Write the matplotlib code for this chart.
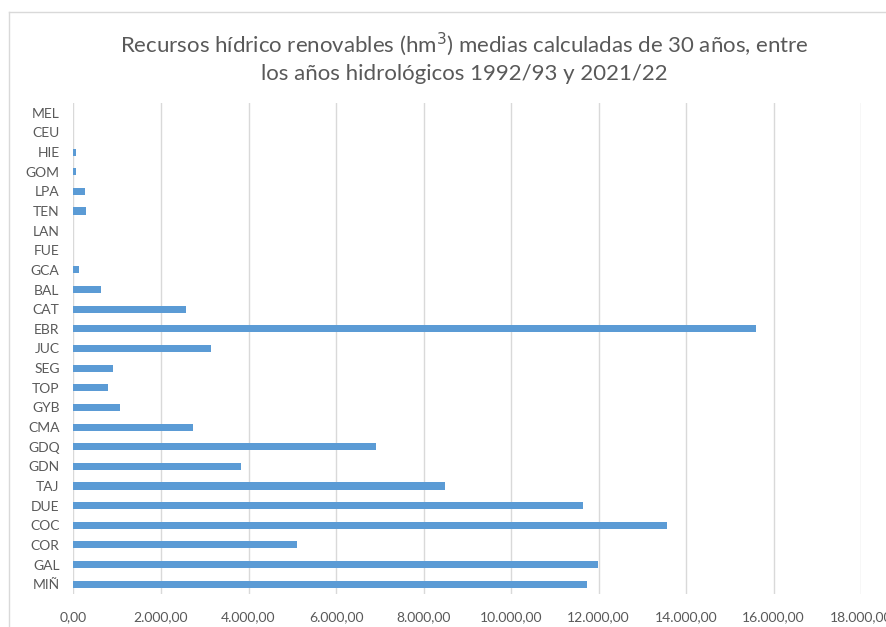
import matplotlib.pyplot as plt
from matplotlib.ticker import FuncFormatter, MultipleLocator
from matplotlib.lines import Line2D

# demarcaciones, de abajo a arriba
demarcaciones = ['MIÑ', 'GAL', 'COR', 'COC', 'DUE', 'TAJ', 'GDN', 'GDQ', 'CMA', 'GYB',
                 'TOP', 'SEG', 'JUC', 'EBR', 'CAT', 'BAL', 'GCA', 'FUE', 'LAN', 'TEN',
                 'LPA', 'GOM', 'HIE', 'CEU', 'MEL']
recursos = [11742, 11990, 5100, 13560, 11650, 8480, 3835, 6910, 2730, 1070,
            790, 910, 3140, 15600, 2565, 630, 130, 0, 0, 275,
            258, 50, 60, 0, 0]

plt.rcParams['font.family'] = ['Lato', 'DejaVu Sans']
gris = '#595959'

fig = plt.figure(figsize=(8.87, 6.27), dpi=100)
ax = fig.add_axes([73.5 / 887, 1 - 594 / 627, (861 - 73.5) / 887, 491 / 627])

ax.barh(range(len(demarcaciones)), recursos, height=0.36, color='#5B9BD5', zorder=3)

ax.set_xlim(0, 18000)
ax.set_ylim(-0.5, len(demarcaciones) - 0.5)
ax.set_yticks(range(len(demarcaciones)))
ax.set_yticklabels(demarcaciones)
ax.xaxis.set_major_locator(MultipleLocator(2000))


def fmt_es(v, pos):
    s = '{:,.2f}'.format(v)
    return s.replace(',', 'X').replace('.', ',').replace('X', '.')


ax.xaxis.set_major_formatter(FuncFormatter(fmt_es))
ax.grid(axis='x', color='#D9D9D9', linewidth=1, zorder=0)
for s in ax.spines.values():
    s.set_visible(False)
ax.tick_params(axis='both', length=0, labelsize=10, colors=gris)
ax.tick_params(axis='x', pad=12)
ax.tick_params(axis='y', pad=10)

fig.text(0.523, 1 - 57 / 627,
         'Recursos hídrico renovables (hm$^3$) medias calculadas de 30 años, entre\n'
         'los años hidrológicos 1992/93 y 2021/22',
         ha='center', va='center', fontsize=16, color=gris, linespacing=1.35)

# marco del gráfico
fig.add_artist(Line2D([9 / 887, 9 / 887], [0, 1 - 12 / 627], color='#D9D9D9', lw=1))
fig.add_artist(Line2D([9 / 887, 1], [1 - 12 / 627, 1 - 12 / 627], color='#D9D9D9', lw=1))

fig.savefig('out.png', dpi=100)
